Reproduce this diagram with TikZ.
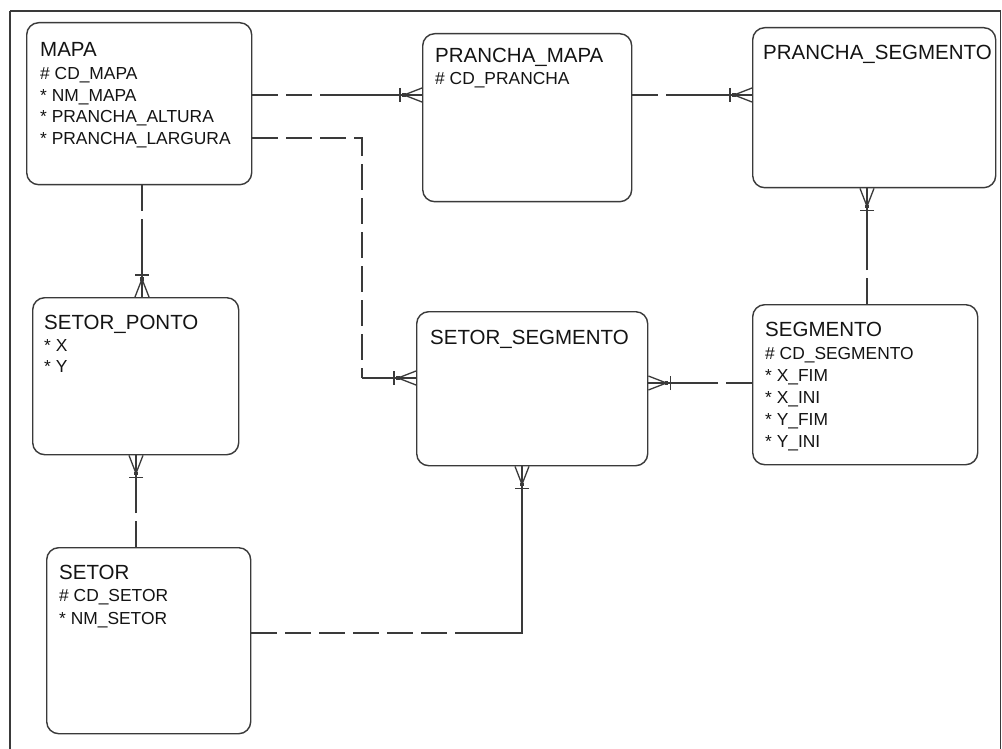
\documentclass[tikz,border=0pt]{standalone}
\usepackage{fontspec}
\setmainfont{Liberation Sans}
\usetikzlibrary{calc}
\definecolor{ln}{HTML}{3A3A3A}
\definecolor{tx}{HTML}{141414}
\tikzset{
  rel/.style={draw=ln, line width=1.3pt},
  optrel/.style={rel, dash pattern=on 26pt off 8pt},
  ent/.style={draw=ln, line width=1.4pt, rounded corners=12pt, anchor=north west, inner sep=0pt},
  ttl/.style={anchor=base west, inner sep=0pt, text=tx, font=\fontsize{20.5}{22}\selectfont},
  att/.style={anchor=base west, inner sep=0pt, text=tx, font=\fontsize{17.4}{20}\selectfont},
}
\newcommand{\crowfoot}[3]{%
  \coordinate (cfapex) at ($(#1)+({18*(#2)},{18*(#3)})$);
  \draw[rel] (cfapex) -- ($(#1)+({7*(#3)},{7*(#2)})$);
  \draw[rel] (cfapex) -- (#1);
  \draw[rel] (cfapex) -- ($(#1)-({7*(#3)},{7*(#2)})$);
  \draw[rel] ($(#1)+({22*(#2)+7*(#3)},{22*(#3)+7*(#2)})$) -- ($(#1)+({22*(#2)-7*(#3)},{22*(#3)-7*(#2)})$);
  \fill[ln] ($(cfapex)+(-1.8,-1.8)$) rectangle ($(cfapex)+(1.8,1.8)$);
}
\begin{document}
\begin{tikzpicture}[x=1pt,y=-1pt]
\useasboundingbox (0,0) rectangle (1002,749);
\fill[white] (0,0) rectangle (1002,749);
\draw[ln, line width=1.5pt] (10,11) -- (1000.5,11) -- (1000.5,760);
\draw[ln, line width=1.5pt] (10,11) -- (10,760);

% entities
\node[ent, minimum width=225pt, minimum height=162pt] (mapa) at (26,22) {};
\node[ttl] (mapat) at (40,56.3) {MAPA};
\node[att] (mapa1) at (40,79.5) {\# CD\_MAPA};
\node[att] (mapa2) at (40,101.2) {* NM\_MAPA};
\node[att] (mapa3) at (40,122.9) {* PRANCHA\_ALTURA};
\node[att] (mapa4) at (40,144.5) {* PRANCHA\_LARGURA};

\node[ent, minimum width=209pt, minimum height=168pt] (pm) at (422,33) {};
\node[ttl] (pmt) at (435,62.3) {PRANCHA\_MAPA};
\node[att] (pm1) at (435,84.2) {\# CD\_PRANCHA};

\node[ent, minimum width=243pt, minimum height=160pt] (ps) at (752,27) {};
\node[ttl] (pst) at (763,59.3) {PRANCHA\_SEGMENTO};

\node[ent, minimum width=206pt, minimum height=157pt] (sp) at (32,297) {};
\node[ttl] (spt) at (44,329.3) {SETOR\_PONTO};
\node[att] (sp1) at (44,351.2) {* X};
\node[att] (sp2) at (44,372.2) {* Y};

\node[ent, minimum width=231pt, minimum height=154pt] (ss) at (416,311) {};
\node[ttl] (sst) at (430,344.3) {SETOR\_SEGMENTO};

\node[ent, minimum width=225pt, minimum height=160pt] (seg) at (752,304) {};
\node[ttl] (segt) at (765,336.3) {SEGMENTO};
\node[att] (seg1) at (765,359.2) {\# CD\_SEGMENTO};
\node[att] (seg2) at (765,381.2) {* X\_FIM};
\node[att] (seg3) at (765,403.2) {* X\_INI};
\node[att] (seg4) at (765,425.2) {* Y\_FIM};
\node[att] (seg5) at (765,447.2) {* Y\_INI};

\node[ent, minimum width=204pt, minimum height=186pt] (setor) at (46,547) {};
\node[ttl] (setort) at (59,579.3) {SETOR};
\node[att] (setor1) at (59,601.2) {\# CD\_SETOR};
\node[att] (setor2) at (59,624.2) {* NM\_SETOR};

% MAPA - PRANCHA_MAPA
\coordinate (c1a) at (mapa.east |- 0,95);
\coordinate (c1b) at (pm.west |- 0,95);
\draw[optrel] (c1a) -- ($(c1a)!0.5!(c1b)$);
\draw[rel] ($(c1a)!0.5!(c1b)$) -- (c1b);
\crowfoot{c1b}{-1}{0}

% PRANCHA_MAPA - PRANCHA_SEGMENTO
\coordinate (c2a) at (pm.east |- 0,95);
\coordinate (c2b) at (ps.west |- 0,95);
\draw[optrel] (c2a) -- ($(c2a)!0.5!(c2b)$);
\draw[rel] ($(c2a)!0.5!(c2b)$) -- (c2b);
\crowfoot{c2b}{-1}{0}

% MAPA - SETOR_SEGMENTO
\coordinate (c3a) at (mapa.east |- 0,138);
\coordinate (c3k1) at (362,138);
\coordinate (c3k2) at (362,378);
\coordinate (c3b) at (ss.west |- 0,378);
\draw[optrel] (c3a) -- (c3k1) -- (c3k2);
\draw[rel] (c3k2) -- (c3b);
\crowfoot{c3b}{-1}{0}

% MAPA - SETOR_PONTO
\coordinate (c4a) at (mapa.south -| 142,0);
\coordinate (c4b) at (sp.north -| 142,0);
\draw[optrel] (c4a) -- ($(c4a)!0.5!(c4b)$);
\draw[rel] ($(c4a)!0.5!(c4b)$) -- (c4b);
\crowfoot{c4b}{0}{-1}

% SETOR - SETOR_PONTO
\coordinate (c5a) at (setor.north -| 136,0);
\coordinate (c5b) at (sp.south -| 136,0);
\draw[optrel] (c5a) -- ($(c5a)!0.5!(c5b)$);
\draw[rel] ($(c5a)!0.5!(c5b)$) -- (c5b);
\crowfoot{c5b}{0}{1}

% SETOR - SETOR_SEGMENTO
\coordinate (c6a) at (setor.east |- 0,633);
\coordinate (c6m) at (471,633);
\coordinate (c6k) at (522,633);
\coordinate (c6b) at (ss.south -| 522,0);
\draw[optrel] (c6a) -- (c6m);
\draw[rel] (c6m) -- (c6k) -- (c6b);
\crowfoot{c6b}{0}{1}

% SEGMENTO - SETOR_SEGMENTO
\coordinate (c7a) at (seg.west |- 0,383);
\coordinate (c7b) at (ss.east |- 0,383);
\draw[optrel] (c7a) -- ($(c7a)!0.5!(c7b)$);
\draw[rel] ($(c7a)!0.5!(c7b)$) -- (c7b);
\crowfoot{c7b}{1}{0}

% SEGMENTO - PRANCHA_SEGMENTO
\coordinate (c8a) at (seg.north -| 867,0);
\coordinate (c8b) at (ps.south -| 867,0);
\draw[optrel] (c8a) -- ($(c8a)!0.5!(c8b)$);
\draw[rel] ($(c8a)!0.5!(c8b)$) -- (c8b);
\crowfoot{c8b}{0}{1}
\end{tikzpicture}
\end{document}
